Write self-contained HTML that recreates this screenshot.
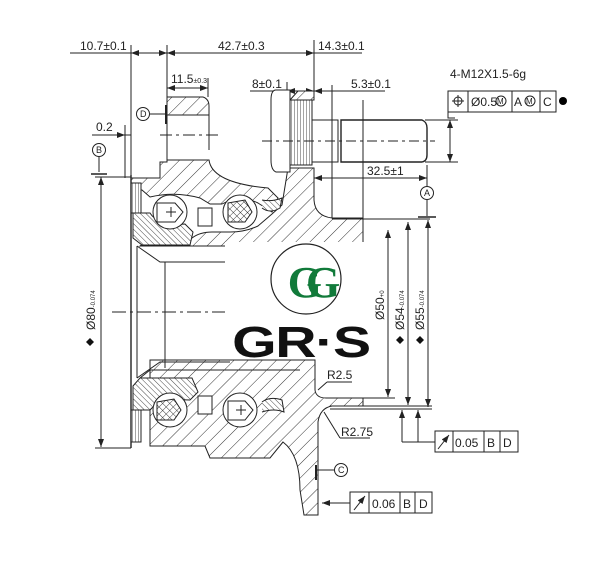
<!DOCTYPE html>
<html><head><meta charset="utf-8"><style>
html,body{margin:0;padding:0;background:#fff;}
svg{display:block;}
text{font-family:"Liberation Sans Narrow","Liberation Sans",sans-serif;fill:#222;}
</style></head><body>
<svg width="600" height="571" viewBox="0 0 600 571" xmlns="http://www.w3.org/2000/svg">
<defs>
<pattern id="h" width="10" height="10" patternUnits="userSpaceOnUse" patternTransform="rotate(45)">
<rect width="10" height="10" fill="#fff"/><line x1="0" y1="0" x2="0" y2="10" stroke="#333" stroke-width="1"/></pattern>
<pattern id="hf" width="4" height="4" patternUnits="userSpaceOnUse" patternTransform="rotate(-45)">
<rect width="4" height="4" fill="#fff"/><line x1="0" y1="0" x2="0" y2="4" stroke="#333" stroke-width="0.9"/></pattern>
<pattern id="k" width="3" height="3" patternUnits="userSpaceOnUse">
<rect width="3" height="3" fill="#fff"/><line x1="0" y1="0" x2="0" y2="3" stroke="#333" stroke-width="0.9"/></pattern>
<pattern id="x" width="5" height="5" patternUnits="userSpaceOnUse" patternTransform="rotate(45)">
<rect width="5" height="5" fill="#fff"/><path d="M0 0V5M0 0H5" stroke="#333" stroke-width="0.9"/></pattern>
<marker id="a" markerWidth="8" markerHeight="6" refX="8" refY="3" orient="auto-start-reverse"><path d="M0 0L8 3L0 6z" fill="#222"/></marker>
</defs>
<g stroke="#222" fill="none" stroke-width="1">
<line x1="70" y1="53" x2="131" y2="53"/>
<line x1="131" y1="53" x2="167" y2="53" marker-start="url(#a)" marker-end="url(#a)"/>
<line x1="167" y1="53" x2="314" y2="53" marker-start="url(#a)" marker-end="url(#a)"/>
<line x1="314" y1="53" x2="362" y2="53"/>
<line x1="131" y1="45" x2="131" y2="178"/>
<line x1="167" y1="45" x2="167" y2="97"/>
<line x1="314" y1="40" x2="314" y2="91"/>
<line x1="167" y1="88" x2="208" y2="88" marker-start="url(#a)" marker-end="url(#a)"/>
<line x1="208" y1="78" x2="208" y2="97"/>
<line x1="250" y1="91" x2="287" y2="91"/>
<line x1="287" y1="91" x2="314" y2="91" marker-start="url(#a)" marker-end="url(#a)"/>
<line x1="287" y1="82" x2="287" y2="100"/>
<line x1="314" y1="91" x2="332" y2="91" marker-start="url(#a)"/>
<line x1="332" y1="85" x2="332" y2="218"/>
<line x1="332" y1="91" x2="385" y2="91"/>
<line x1="363" y1="100" x2="363" y2="245"/>
<line x1="92" y1="135" x2="131" y2="135"/>
<line x1="117" y1="135" x2="125" y2="135" marker-end="url(#a)"/>
<line x1="125" y1="125" x2="125" y2="178"/>
<circle cx="99" cy="150" r="6.5"/>
<line x1="99" y1="157" x2="99" y2="172"/>
<line x1="91" y1="174" x2="107" y2="174" stroke-width="1.5"/>
<line x1="95" y1="177" x2="131" y2="177"/>
<line x1="101" y1="177" x2="101" y2="447" marker-start="url(#a)" marker-end="url(#a)"/>
<line x1="95" y1="448" x2="131" y2="448"/>
<circle cx="143" cy="114" r="6.5"/>
<line x1="150" y1="114" x2="165" y2="114"/>
<line x1="166" y1="105" x2="166" y2="124" stroke-width="2"/>
<path d="M167 97 H203 Q209 99 209 106 V115 H167 Z" fill="url(#h)"/>
<line x1="167" y1="115" x2="167" y2="160"/><line x1="209" y1="115" x2="209" y2="150"/>
<line x1="160" y1="135" x2="218" y2="135" stroke-dasharray="12 4 3 4"/>
<path d="M131 178 H160 V162 H167 V160 H209 Q212 183 268 188 L278 198 L272 212 L258 203 Q240 194 222 204 H210 L200 198 Q175 191 150 197 L142 190 L131 190 Z" fill="url(#h)"/>
<path d="M140 246 L150 238 H192 Q200 232 212 232 H230 Q245 232 258 226 L272 214 L282 205 L288 168 H314 V200 Q315 216 332 218 H363 V246 Z" fill="url(#h)"/>
<path d="M290 100 L298 91 H314 V100 Z" fill="url(#h)"/>
<path d="M133 213 H150 Q158 226 185 224 L193 232 L190 245 H142 L133 238 Z" fill="url(#hf)"/>
<path d="M150 360 H315 V390 Q316 398 326 398 H363 V406 H332 Q320 408 318 422 V515 H304 L300 490 Q300 455 283 442 L270 458 H210 L205 446 H150 Z" fill="url(#h)"/>
<path d="M140 378 L150 370 H300"/>
<path d="M140 378 H192 L198 392 L190 400 Q160 398 150 410 H133 V386 Z" fill="url(#hf)"/>
<rect x="131" y="183" width="10" height="30" fill="url(#k)"/>
<rect x="131" y="410" width="10" height="32" fill="url(#k)"/>
<line x1="131" y1="175" x2="131" y2="448" stroke-width="1.4"/>
<line x1="137" y1="246" x2="137" y2="378"/>
<line x1="165" y1="262" x2="165" y2="368"/>
<path d="M137 246 L160 262 H230 M137 378 L160 362 H230"/>
<circle cx="170" cy="212" r="17" fill="#fff"/>
<circle cx="240" cy="212" r="17" fill="#fff"/>
<path d="M157 203 H175 L183 212 L175 222 H157 Z"/>
<path d="M166 212 H176 M171 207 V217"/>
<path d="M228 203 L245 200 L252 212 L245 222 H228 Z" fill="url(#x)"/>
<circle cx="170" cy="410" r="17" fill="#fff"/>
<circle cx="240" cy="410" r="17" fill="#fff"/>
<path d="M157 402 L174 399 L181 410 L174 420 H157 Z" fill="url(#x)"/>
<path d="M228 401 H245 L253 410 L245 420 H228 Z"/>
<path d="M236 410 H246 M241 405 V415"/>
<path d="M198 208 H212 V226 H198Z M198 396 H212 V414 H198Z" fill="#fff"/>
<path d="M262 402 Q270 396 282 400 L284 412 Q274 408 262 412" fill="url(#hf)"/>
<path d="M262 208 Q270 214 280 208 L282 198 Q272 202 262 200" fill="url(#hf)"/>
<line x1="112" y1="312" x2="225" y2="312" stroke-dasharray="14 4 3 4"/>
<path d="M276 90 H290 V172 H276 Q271 170 271 160 V100 Q271 90 276 90Z" fill="#fff"/>
<rect x="290" y="100" width="22" height="65" fill="url(#k)"/>
<path d="M312 120 H338 V162 H312 Z"/>
<path d="M341 120 H422 Q427 122 427 128 V155 Q427 161 422 162 H341 Z" stroke-width="1.4"/>
<line x1="262" y1="141" x2="435" y2="141" stroke-dasharray="10 4 3 4"/>
<line x1="425" y1="120" x2="458" y2="120"/><line x1="425" y1="162" x2="458" y2="162"/>
<line x1="450" y1="120" x2="450" y2="162" marker-start="url(#a)" marker-end="url(#a)"/>
<line x1="314" y1="178" x2="427" y2="178" marker-start="url(#a)" marker-end="url(#a)"/>
<line x1="427" y1="165" x2="427" y2="186"/>
<circle cx="427" cy="193" r="6.5"/>
<line x1="427" y1="200" x2="427" y2="216"/>
<line x1="418" y1="217" x2="436" y2="217" stroke-width="1.5"/>
<line x1="332" y1="219" x2="430" y2="219"/>
<path d="M448 91 H556 V112 H448 Z M468 91 V112 M512 91 V112 M540 91 V112"/>
<path d="M448 112 V118 H455"/>
<circle cx="458" cy="101" r="4"/><line x1="458" y1="95" x2="458" y2="107"/><line x1="452" y1="101" x2="464" y2="101"/>
<circle cx="501" cy="101" r="5"/><circle cx="530" cy="101" r="5"/>
<line x1="388" y1="230" x2="388" y2="397" marker-start="url(#a)" marker-end="url(#a)"/>
<line x1="408" y1="222" x2="408" y2="405" marker-start="url(#a)" marker-end="url(#a)"/>
<line x1="428" y1="220" x2="428" y2="407" marker-start="url(#a)" marker-end="url(#a)"/>
<line x1="363" y1="398" x2="395" y2="398"/>
<line x1="330" y1="406" x2="432" y2="406"/>
<line x1="330" y1="409" x2="432" y2="409"/>
<line x1="402" y1="442" x2="402" y2="410" marker-end="url(#a)"/>
<line x1="418" y1="442" x2="418" y2="410" marker-end="url(#a)"/>
<line x1="402" y1="442" x2="435" y2="442"/>
<path d="M435 431 H518 V452 H435 Z M453 431 V452 M484 431 V452 M500 431 V452"/>
<line x1="438" y1="449" x2="449" y2="435" marker-end="url(#a)"/>
<line x1="318" y1="390" x2="327" y2="382"/><line x1="327" y1="382" x2="352" y2="382"/>
<line x1="324" y1="412" x2="340" y2="438"/><line x1="340" y1="438" x2="370" y2="438"/>
<line x1="316" y1="465" x2="316" y2="480" stroke-width="2"/>
<line x1="316" y1="470" x2="334" y2="470"/>
<circle cx="341" cy="470" r="6.5"/>
<path d="M350 492 H432 V513 H350 Z M369 492 V513 M400 492 V513 M415 492 V513"/>
<line x1="350" y1="503" x2="322" y2="503" marker-end="url(#a)"/>
<line x1="354" y1="510" x2="365" y2="496" marker-end="url(#a)"/>
</g>
<g font-size="12">
<text x="80" y="50">10.7±0.1</text>
<text x="218" y="50">42.7±0.3</text>
<text x="318" y="50">14.3±0.1</text>
<text x="171" y="83">11.5<tspan font-size="7">±0.3</tspan></text>
<text x="252" y="88">8±0.1</text>
<text x="351" y="88">5.3±0.1</text>
<text x="96" y="131">0.2</text>
<text x="367" y="175">32.5±1</text>
<text x="450" y="78">4-M12X1.5-6g</text>
<text x="471" y="106">Ø0.5</text>
<text x="514" y="106">A</text>
<text x="543" y="106">C</text>
<text x="455" y="447">0.05</text>
<text x="487" y="447">B</text>
<text x="503" y="447">D</text>
<text x="372" y="508">0.06</text>
<text x="403" y="508">B</text>
<text x="419" y="508">D</text>
<text x="327" y="379">R2.5</text>
<text x="341" y="436">R2.75</text>
</g>
<g font-size="9"><text x="96" y="153">B</text><text x="140" y="117">D</text><text x="424" y="196">A</text><text x="338" y="473">C</text></g>
<g font-size="8"><text x="497" y="104">M</text><text x="526" y="104">M</text></g>
<circle cx="563" cy="101" r="4" fill="#000"/>
<text transform="translate(95,330) rotate(-90)" font-size="12">Ø80<tspan font-size="6">-0.074</tspan></text>
<text transform="translate(384,320) rotate(-90)" font-size="12">Ø50<tspan font-size="6">+0</tspan></text>
<text transform="translate(404,330) rotate(-90)" font-size="12">Ø54<tspan font-size="6">-0.074</tspan></text>
<text transform="translate(424,330) rotate(-90)" font-size="12">Ø55<tspan font-size="6">-0.074</tspan></text>
<g fill="#111"><path d="M86 342 l4 -4 l4 4 l-4 4z"/><path d="M396 340 l4 -4 l4 4 l-4 4z"/><path d="M416 340 l4 -4 l4 4 l-4 4z"/></g>
<rect x="225" y="242" width="142" height="117" fill="#fff"/>
<circle cx="306" cy="279" r="35" fill="#fff" stroke="#222" stroke-width="1.2"/>
<text x="306" y="297" text-anchor="middle" font-size="44" font-weight="bold" style="fill:#117a3a;font-family:'Liberation Serif',serif" letter-spacing="-16">GG</text>
<text x="301" y="357" text-anchor="middle" font-size="44" font-weight="bold" style="fill:#111;font-family:'Liberation Sans',sans-serif" transform="translate(301,0) scale(1.3,1) translate(-301,0)" letter-spacing="-1">GR·S</text>
</svg>
</body></html>
